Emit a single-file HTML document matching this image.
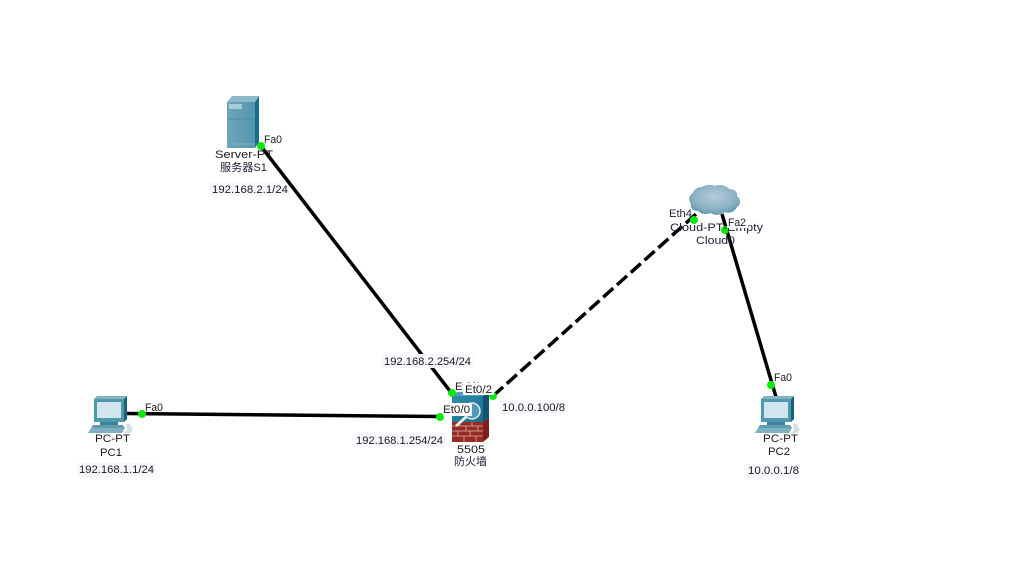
<!DOCTYPE html>
<html>
<head>
<meta charset="utf-8">
<style>
html,body{margin:0;padding:0;background:#fff;width:1034px;height:588px;overflow:hidden}
svg{display:block}
text{font-family:"Liberation Sans","Noto Sans CJK SC",sans-serif;font-size:11px;fill:#1a1a1a}
.d{fill:#22223a}
</style>
</head>
<body>
<svg width="1034" height="588" viewBox="0 0 1034 588" xmlns="http://www.w3.org/2000/svg">
<defs>
<linearGradient id="srv" x1="0" y1="0" x2="1" y2="0"><stop offset="0" stop-color="#6ba6ba"/><stop offset="1" stop-color="#5595ad"/></linearGradient>
<radialGradient id="cl" cx="0.5" cy="0.4" r="0.62"><stop offset="0" stop-color="#b4ccd8"/><stop offset="0.65" stop-color="#8db3c5"/><stop offset="1" stop-color="#5f98b0"/></radialGradient>
<linearGradient id="fw" x1="0" y1="0" x2="1" y2="1"><stop offset="0" stop-color="#2f8cab"/><stop offset="1" stop-color="#1a6c8b"/></linearGradient>
<g id="pc">
<path d="M97 396h30l-3 3H94z" fill="#7fb3c4"/>
<path d="M124 399l3-3v23l-3 3z" fill="#176077"/>
<rect x="94" y="399" width="30" height="23" fill="#4f98ae"/>
<rect x="97" y="402" width="24" height="16" fill="#d2e4ec"/>
<path d="M100 422h18v3h-18z" fill="#3b8199"/>
<path d="M93 425h30l2 3H91z" fill="#5f9cb2"/>
<path d="M91 428h34l-3 5H88z" fill="#7fb0c2"/>
<path d="M126 424h4l3 6-3 3h-6l3-3z" fill="#d2dfe4"/>
</g>
</defs>

<!-- label backgrounds under the connectors -->
<g fill="#f6f8fd">
<rect x="210" y="182" width="80" height="14"/>
<rect x="354" y="433" width="92" height="14"/>
<rect x="500" y="400" width="66" height="14"/>
<rect x="77" y="463" width="79" height="14"/>
<rect x="746" y="464" width="54" height="14"/>
</g>

<!-- connectors -->
<g stroke="#000" stroke-width="3.500" fill="none">
<line x1="260" y1="145" x2="453" y2="395"/>
<line x1="125" y1="413.500" x2="440" y2="416.500"/>
<line x1="722" y1="214" x2="776" y2="397"/>
<line x1="493" y1="396" x2="705" y2="206" stroke-dasharray="13.500 5"/>
</g>

<!-- label background above the connector -->
<rect x="381" y="354" width="92" height="14" fill="#f6f8fd"/>

<!-- server -->
<path d="M227 102l5-6h27l-4 6z" fill="#8dbac9"/>
<rect x="227" y="102" width="28" height="46" fill="url(#srv)"/>
<path d="M255 102l4-6v46l-4 6z" fill="#14708d"/>
<rect x="229" y="104" width="13" height="5" fill="#a9cbd8"/>
<line x1="227" y1="119" x2="255" y2="119" stroke="#4f8ca5" stroke-width="1"/>
<line x1="227" y1="144" x2="255" y2="144" stroke="#80b2c3" stroke-width="1"/>

<!-- PCs -->
<use href="#pc"/>
<use href="#pc" x="667" y="0"/>

<!-- cloud -->
<path d="M702 187c3-2 9-3 13-1 4-2 11-1 14 3 5 0 9 3 8 7 4 3 4 9 0 11-2 5-8 7-12 5-4 3-10 4-14 1-5 2-10 1-13-2-5 0-8-3-7-7-3-4-2-9 2-11 1-4 5-6 9-6z" fill="url(#cl)"/>

<!-- firewall -->
<path d="M452 396l5-4h32l-6 4z" fill="#4ea0bc"/>
<rect x="452" y="396" width="31" height="26" fill="url(#fw)"/>
<path d="M483 396l6-4v26l-6 4z" fill="#0f5470"/>
<rect x="452" y="422" width="31" height="20" fill="#9c2a24"/>
<path d="M483 422l6-4v19l-6 5z" fill="#7c1f1b"/>
<g stroke="#cdb4ac" stroke-width="0.800">
<line x1="452" y1="426" x2="483" y2="426"/>
<line x1="452" y1="431" x2="483" y2="431"/>
<line x1="452" y1="436" x2="483" y2="436"/>
<line x1="460" y1="422" x2="460" y2="426"/><line x1="472" y1="422" x2="472" y2="426"/>
<line x1="466" y1="426" x2="466" y2="431"/><line x1="478" y1="426" x2="478" y2="431"/>
<line x1="458" y1="431" x2="458" y2="436"/><line x1="470" y1="431" x2="470" y2="436"/>
<line x1="464" y1="436" x2="464" y2="442"/><line x1="476" y1="436" x2="476" y2="442"/>
</g>
<circle cx="472" cy="411" r="8" fill="#4f9bb5" stroke="#dfe9ec" stroke-width="1.500"/>
<line x1="466" y1="417" x2="456" y2="426" stroke="#e8eff1" stroke-width="2.800"/>

<!-- link lights -->
<g fill="#0be80b">
<circle cx="261" cy="146" r="4"/>
<circle cx="142" cy="414" r="4"/>
<circle cx="440" cy="417" r="4"/>
<circle cx="452" cy="393" r="4"/>
<circle cx="493" cy="396" r="4"/>
<circle cx="694" cy="220" r="4"/>
<circle cx="725" cy="230" r="4"/>
<circle cx="771" cy="385" r="4"/>
</g>

<!-- labels -->
<g>
<text x="264" y="143" textLength="18" lengthAdjust="spacingAndGlyphs">Fa0</text>
<text x="215" y="158" textLength="58" lengthAdjust="spacingAndGlyphs">Server-PT</text>
<text x="220" y="171" class="d" textLength="47" lengthAdjust="spacingAndGlyphs">服务器S1</text>
<text x="212" y="193" textLength="76" lengthAdjust="spacingAndGlyphs">192.168.2.1/24</text>

<text x="384" y="365" textLength="87" lengthAdjust="spacingAndGlyphs">192.168.2.254/24</text>
<text x="455" y="390" textLength="26" lengthAdjust="spacingAndGlyphs">Et0/1</text>
<rect x="463" y="383" width="31" height="12" fill="#fff"/>
<text x="465" y="393" textLength="27" lengthAdjust="spacingAndGlyphs">Et0/2</text>
<rect x="443" y="403" width="29" height="13" fill="#fff"/>
<text x="443" y="413" textLength="27" lengthAdjust="spacingAndGlyphs">Et0/0</text>
<text x="502" y="411" textLength="63" lengthAdjust="spacingAndGlyphs">10.0.0.100/8</text>
<text x="356" y="444" textLength="87" lengthAdjust="spacingAndGlyphs">192.168.1.254/24</text>
<text x="457" y="453" textLength="28" lengthAdjust="spacingAndGlyphs">5505</text>
<text x="454" y="465" class="d" textLength="33" lengthAdjust="spacingAndGlyphs">防火墙</text>

<text x="145" y="411" textLength="18" lengthAdjust="spacingAndGlyphs">Fa0</text>
<text x="95" y="442" textLength="35" lengthAdjust="spacingAndGlyphs">PC-PT</text>
<text x="100" y="456" textLength="22" lengthAdjust="spacingAndGlyphs">PC1</text>
<text x="79" y="473" textLength="75" lengthAdjust="spacingAndGlyphs">192.168.1.1/24</text>

<text x="669" y="217" class="d" textLength="23" lengthAdjust="spacingAndGlyphs">Eth4</text>
<text x="670" y="231" class="d" textLength="93" lengthAdjust="spacingAndGlyphs">Cloud-PT-Empty</text>
<rect x="727" y="216" width="21" height="12" fill="#fff"/>
<text x="728" y="226" class="d" textLength="18" lengthAdjust="spacingAndGlyphs">Fa2</text>
<text x="696" y="244" class="d" textLength="39" lengthAdjust="spacingAndGlyphs">Cloud0</text>

<text x="774" y="381" textLength="18" lengthAdjust="spacingAndGlyphs">Fa0</text>
<text x="763" y="442" textLength="35" lengthAdjust="spacingAndGlyphs">PC-PT</text>
<text x="768" y="455" textLength="22" lengthAdjust="spacingAndGlyphs">PC2</text>
<text x="748" y="474" textLength="51" lengthAdjust="spacingAndGlyphs">10.0.0.1/8</text>
</g>
</svg>
</body>
</html>
